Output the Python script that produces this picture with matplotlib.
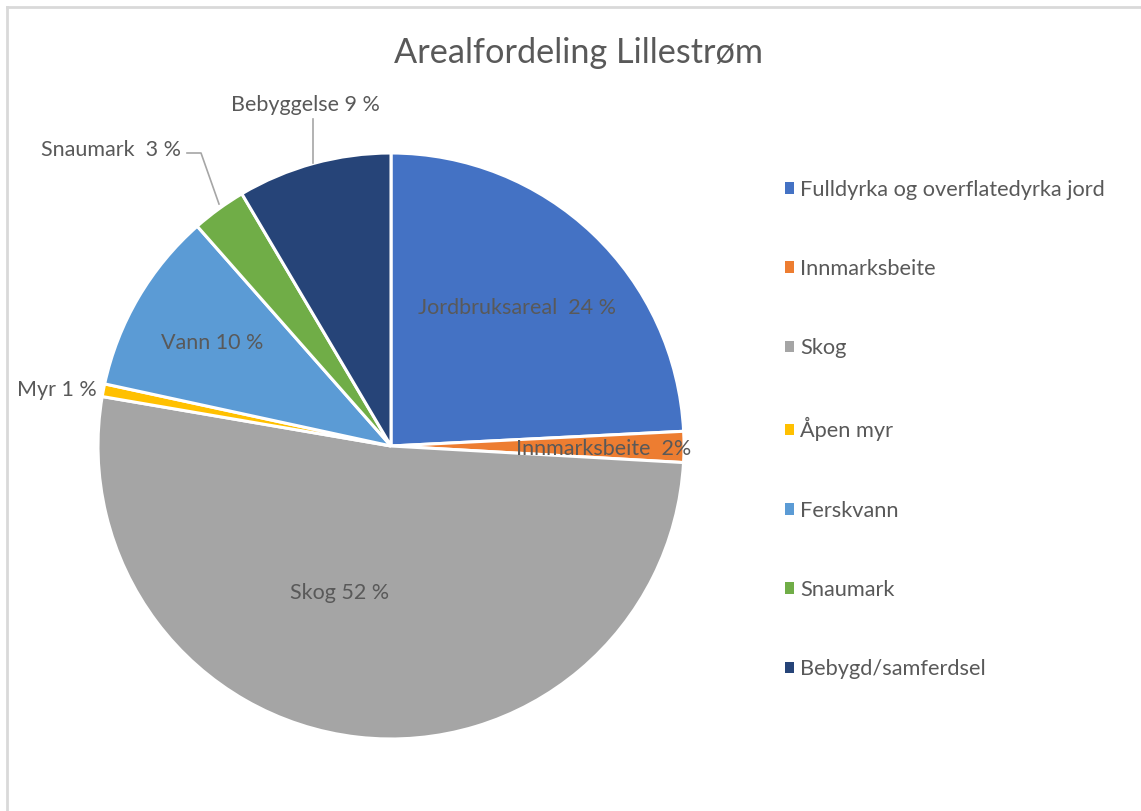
import matplotlib.pyplot as plt
from matplotlib.patches import Patch

# data
kategorier = ["Fulldyrka og overflatedyrka jord", "Innmarksbeite", "Skog", "Åpen myr",
              "Ferskvann", "Snaumark", "Bebygd/samferdsel"]
andel = [24.2, 1.7, 51.8, 0.7, 10.1, 3.0, 8.5]
etiketter = ["Jordbruksareal  24 %", "Innmarksbeite  2%", "Skog 52 %", "Myr 1 %",
             "Vann 10 %", "Snaumark  3 %", "Bebyggelse 9 %"]
farger = ["#4472C4", "#ED7D31", "#A5A5A5", "#FFC000", "#5B9BD5", "#70AD47", "#264478"]

plt.rcParams['font.family'] = ['Lato', 'DejaVu Sans']
tekst = "#595959"

W, H = 1141, 811
fig = plt.figure(figsize=(W / 100, H / 100), dpi=100)

# pie center (391, 446) px, radius 293 px
cx, cy, r = 391, 446, 293
half = 330
ax = fig.add_axes([(cx - half) / W, (H - cy - half) / H, 2 * half / W, 2 * half / H])

wedges, _ = ax.pie(andel, colors=farger, startangle=90, counterclock=False, radius=1,
                   wedgeprops=dict(edgecolor='white', linewidth=2.2))
lim = half / r
ax.set_xlim(-lim, lim)
ax.set_ylim(-lim, lim)
ax.set_aspect('equal')
ax.axis('off')


def px(x, y):
    return (x - cx) / r, (cy - y) / r


# label positions (pixel coords)
pos = [(517, 308, 'center'), (604, 449, 'center'), (340, 593, 'center'), (97, 390, 'right'),
       (212, 343, 'center'), (111, 150, 'center'), (305, 105, 'center')]
for lab, (x, y, ha) in zip(etiketter, pos):
    ax.text(*px(x, y), lab, ha=ha, va='center', fontsize=15.5, color=tekst)

# leader lines
lx, ly = zip(px(313, 119), px(313, 163))
ax.plot(lx, ly, color="#A6A6A6", lw=1.2)
lx, ly = zip(px(187, 153), px(201, 153), px(219, 204))
ax.plot(lx, ly, color="#A6A6A6", lw=1.2)

fig.text(578 / W, 1 - 53 / H, "Arealfordeling Lillestrøm", ha='center', va='center',
         fontsize=24.7, color=tekst)

handles = [Patch(facecolor=c, edgecolor='none') for c in farger]
leg = fig.legend(handles, kategorier, loc='upper left', bbox_to_anchor=(776 / W, 1 - 171 / H),
                 frameon=False, fontsize=15.7, labelcolor=tekst, handlelength=0.42,
                 handleheight=0.42, handletextpad=0.28, labelspacing=2.715, borderaxespad=0)

# chart border (top and left visible)
fig.add_artist(plt.Line2D([7 / W, 7 / W], [0, 1 - 7 / H], color="#D9D9D9", lw=2))
fig.add_artist(plt.Line2D([7 / W, 1], [1 - 7 / H, 1 - 7 / H], color="#D9D9D9", lw=2))

fig.savefig("out.png", dpi=100)
